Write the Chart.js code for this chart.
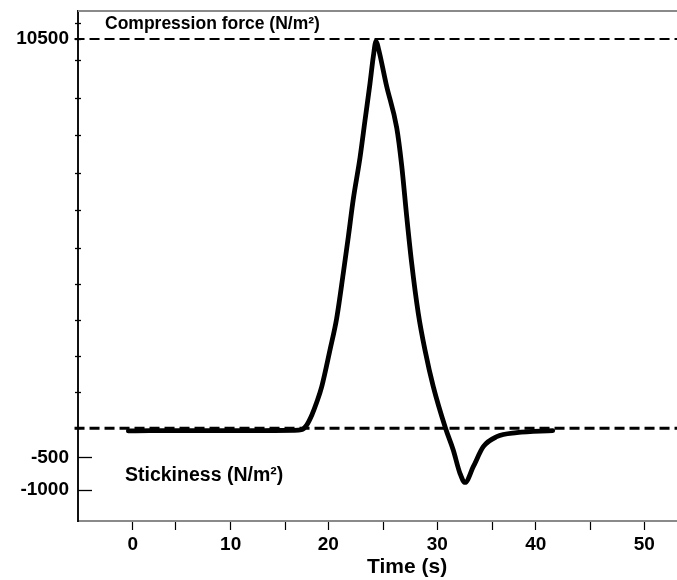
<!DOCTYPE html>
<html>
<head>
<meta charset="utf-8">
<script src="https://cdn.jsdelivr.net/npm/chart.js"></script>
<style>
  html, body { margin: 0; padding: 0; background: #fff; }
  .container { width: 677px; height: 580px; }
</style>
</head>
<body>
<div class="container"><canvas id="myChart"></canvas></div>
<script>
// force curve: time (s) and force (N/m2)
const timeS = [-0.5, 2, 5, 8, 11, 14, 16.0, 16.9, 17.5, 18.1, 18.66, 19.24, 20.15, 20.76,
    21.36, 21.82, 22.27, 22.88, 23.34, 23.79, 24.09, 24.34, 24.55, 25.31, 26.24, 26.7,
    27.17, 27.63, 28.24, 28.86, 29.63, 30.75, 31.45, 32.06, 32.52, 33.27, 34.18, 35.51,
    37.81, 41.55];
const forceN = [-45, -42, -40, -40, -40, -38, -35, -25, 90, 370, 720, 1154, 2171, 3050,
    4300, 5300, 6300, 7400, 8404, 9380, 10079, 10450, 10280, 9300, 8200, 7200,
    5832, 4576, 3189, 2171, 1154, 0, -374, -745, -885, -644, -317, -145,
    -76, -41];

// dashed reference levels
const refLevels = [10500, 0];
const refWidths = [2, 3];

// axis ticks
const xTicks = [0, 5, 10, 15, 20, 25, 30, 35, 40, 45, 50];
const xLabels = [0, 10, 20, 30, 40, 50];
const yTicks = [-1000, -500, 0, 1000, 2000, 3000, 4000, 5000, 6000, 7000, 8000, 9000, 10000, 10500, 11000];
const yLabels = [-1000, -500, 10500];

const FONT = '"Liberation Sans", Arial, sans-serif';

// linear scale whose spacing can change between knots (the printed axis is not even)
function toDecimal(v, knots) {
    let i = 1;
    while (i < knots.length - 1 && v > knots[i][0]) i++;
    const [v0, d0] = knots[i - 1], [v1, d1] = knots[i];
    return d0 + (v - v0) / (v1 - v0) * (d1 - d0);
}
function fromDecimal(d, knots) {
    let i = 1;
    while (i < knots.length - 1 && d > knots[i][1]) i++;
    const [v0, d0] = knots[i - 1], [v1, d1] = knots[i];
    return v0 + (d - d0) / (d1 - d0) * (v1 - v0);
}
class PiecewiseScale extends Chart.LinearScale {
    static id = 'piecewise';
    static defaults = Chart.LinearScale.defaults;
    getPixelForValue(value) {
        if (value === null || value === undefined) return NaN;
        return this.getPixelForDecimal(toDecimal(value, this.options.knots));
    }
    getValueForPixel(pixel) {
        return fromDecimal(this.getDecimalForPixel(pixel), this.options.knots);
    }
}
Chart.register(PiecewiseScale);

const xKnots = [[-6.3, 0], [0, 0.0913], [5, 0.1636], [10, 0.2549], [15, 0.3456], [20, 0.4179],
    [25, 0.5097], [30, 0.5998], [35, 0.6917], [40, 0.7641], [45, 0.8559], [50, 0.9454], [53.05, 1]];
const yKnots = [[-1500, 0], [-1000, 0.0608], [-500, 0.1249], [0, 0.1818], [5000, 0.5353],
    [10000, 0.9039], [10500, 0.9451], [11000, 0.9759], [11400, 1]];

const decor = {
    id: 'decor',
    afterDraw(chart) {
        const { ctx, chartArea: a, scales: { x, y } } = chart;
        ctx.save();
        // top frame line
        ctx.strokeStyle = '#8a8a8a';
        ctx.lineWidth = 2;
        ctx.beginPath();
        ctx.moveTo(a.left, a.top);
        ctx.lineTo(a.right, a.top);
        ctx.stroke();
        // y tick marks
        ctx.strokeStyle = '#000';
        ctx.lineWidth = 1.3;
        yTicks.forEach(v => {
            const py = Math.round(y.getPixelForValue(v)) + 0.5;
            const long = v < 0;
            ctx.beginPath();
            ctx.moveTo(long ? a.left : a.left - 3, py);
            ctx.lineTo(long ? a.left + 14 : a.left + 3, py);
            ctx.stroke();
        });
        // labels
        ctx.fillStyle = '#000';
        ctx.textBaseline = 'alphabetic';
        ctx.textAlign = 'left';
        ctx.font = 'bold 17.5px ' + FONT;
        ctx.fillText('Compression force (N/m²)', a.left + 27, a.top + 18);
        ctx.font = 'bold 19.5px ' + FONT;
        ctx.fillText('Stickiness (N/m²)', a.left + 47, a.bottom - 40);
        ctx.textAlign = 'center';
        ctx.font = 'bold 21px ' + FONT;
        ctx.fillText('Time (s)', x.getPixelForValue(27.2), chart.height - 7);
        ctx.restore();
    }
};

const datasets = refLevels.map((lvl, i) => ({
    data: [{ x: -6.7, y: lvl }, { x: 53.05, y: lvl }],
    borderColor: '#000',
    borderWidth: refWidths[i],
    borderDash: [10, 5],
    pointRadius: 0,
    clip: false,
    order: 1
}));
datasets.push({
    data: timeS.map((t, i) => ({ x: t, y: forceN[i] })),
    borderColor: '#000',
    borderWidth: 4.8,
    borderJoinStyle: 'round',
    borderCapStyle: 'round',
    cubicInterpolationMode: 'monotone',
    pointRadius: 0,
    order: 0
});

const ctx = document.getElementById('myChart').getContext('2d');
const myChart = new Chart(ctx, {
    type: 'line',
    data: { datasets },
    options: {
        responsive: true,
        maintainAspectRatio: false,
        animation: false,
        layout: { padding: { top: 11, right: 0, bottom: 0, left: 0 } },
        plugins: { legend: { display: false }, tooltip: { enabled: false } },
        scales: {
            x: {
                type: 'piecewise',
                knots: xKnots,
                min: -6.3,
                max: 53.05,
                afterBuildTicks: s => { s.ticks = xTicks.map(v => ({ value: v })); },
                afterFit: s => { s.height = 59; s.paddingLeft = 0; s.paddingRight = 0; },
                grid: { drawOnChartArea: false, drawTicks: true, tickLength: 9, tickColor: '#000', tickWidth: 1.2 },
                border: { display: true, color: '#8a8a8a', width: 2 },
                ticks: {
                    autoSkip: false,
                    maxRotation: 0,
                    padding: 3,
                    color: '#000',
                    font: { family: FONT, size: 19, weight: 'bold' },
                    callback: v => xLabels.includes(v) ? String(v) : ''
                }
            },
            y: {
                type: 'piecewise',
                knots: yKnots,
                min: -1500,
                max: 11400,
                afterBuildTicks: s => { s.ticks = yTicks.map(v => ({ value: v })); },
                afterFit: s => { s.width = 78; s.paddingTop = 0; s.paddingBottom = 0; },
                grid: { drawOnChartArea: false, drawTicks: false },
                border: { display: true, color: '#111', width: 2 },
                ticks: {
                    padding: 9,
                    color: '#000',
                    font: { family: FONT, size: 19, weight: 'bold' },
                    callback: v => yLabels.includes(v) ? String(v) : ''
                }
            }
        }
    },
    plugins: [decor]
});
</script>
</body>
</html>
